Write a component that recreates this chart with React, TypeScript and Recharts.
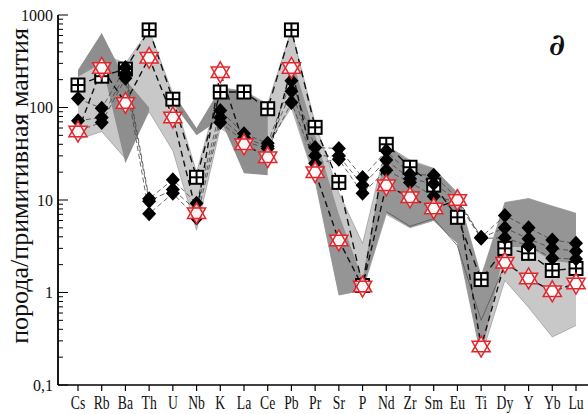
import { ComposedChart, Area, Line, XAxis, YAxis } from 'recharts';

const elements = ['Cs', 'Rb', 'Ba', 'Th', 'U', 'Nb', 'K', 'La', 'Ce', 'Pb', 'Pr', 'Sr', 'P', 'Nd', 'Zr', 'Sm', 'Eu', 'Ti', 'Dy', 'Y', 'Yb', 'Lu'];
const yTickLabels = ['0,1', '1', '10', '100', '1000'];

// образцы
const squareVals = [175, 218, 260, 690, 123, 17.6, 147, 147, 97, 690, 61, 15.5, 1.19, 40, 22.6, 14.5, 6.5, 1.38, 3.0, 2.65, 1.73, 1.82];
const starVals = [55, 268, 112, 345, 78, 7.2, 240, 40, 29, 268, 20, 3.66, 1.16, 14.4, 10.7, 8.1, 10, 0.26, 2.1, 1.42, 1.03, 1.25];
const diamondA = [125, 98, 270, 10.3, 16.6, 9.2, 93, 52, 41, 195, 37, 36, 17.5, 34, 19, 18.5, 10.4, 3.95, 6.8, 5.0, 3.7, 3.4];
const diamondB = [72, 78, 234, 9.7, 13, 7.7, 78, 47, 38, 150, 30, 30, 14.4, 27, 17, 15, 10, 3.9, 5.0, 3.8, 3.0, 2.8];
const diamondC = [56, 69, 207, 7.1, 11.8, 6.4, 69, 43, 36, 113, 25, 27.5, 11.8, 21, 15.5, 11, 9.5, 3.85, 3.9, 3.2, 2.35, 2.3];
const outlineVals = [null, null, null, null, null, null, null, null, null, null, null, null, null, 7.5, 5.2, 6.3, 3.2, 0.5, 2.0, null, null, null];

// поля
const lightLow = [45, 55, 28, 90, 34, 4.7, 60, 40, 40, 100, 16, 0.95, 1.05, 7, 5, 6, 3.4, 0.2, 1.35, 0.69, 0.33, 0.44];
const lightHigh = [240, 380, 300, 690, 140, 20, 165, 150, 110, 690, 68, 12, 3.4, 39, 27, 22, 12, 1.5, 9.4, 10.4, 8.6, 7.2];
const darkALow = [215, 300, 25, 92, null, null, null, null, null, null, null, null, null, null, null, null, null, null, null, null, null, null];
const darkAHigh = [255, 640, 200, 100, null, null, null, null, null, null, null, null, null, null, null, null, null, null, null, null, null, null];
const darkBLow = [null, null, null, null, 112, 50, 75, 19.5, 18.5, null, null, null, null, null, null, null, null, null, null, null, null, null];
const darkBHigh = [null, null, null, null, 145, 60, 160, 152, 105, null, null, null, null, null, null, null, null, null, null, null, null, null];
const darkCLow = [null, null, null, null, null, null, null, null, null, 110, 16, 0.93, 1.05, 7.2, 5.05, 6, 3.4, 0.2, 3.1, 3.1, 2.2, 2.05];
const darkCHigh = [null, null, null, null, null, null, null, null, null, 350, 50, 7, 1.4, 39, 26, 22, 11.8, 1.5, 9.4, 10.4, 8.6, 7.2];

const range = (lo: (number | null)[], hi: (number | null)[], i: number) =>
  lo[i] == null || hi[i] == null ? null : [lo[i], hi[i]];

const rows = elements.map((name, i) => ({
  i,
  name,
  square: squareVals[i],
  star: starVals[i],
  dA: diamondA[i],
  dB: diamondB[i],
  dC: diamondC[i],
  outline: outlineVals[i],
  light: range(lightLow, lightHigh, i),
  darkA: range(darkALow, darkAHigh, i),
  darkB: range(darkBLow, darkBHigh, i),
  darkC: range(darkCLow, darkCHigh, i),
}));

const yTicks: number[] = [];
[0.1, 1, 10, 100].forEach((d) => {
  for (let k = 1; k <= 9; k++) yTicks.push(d * k);
});
yTicks.push(1000);

const serif = '"Liberation Serif", "Times New Roman", serif';

const XTick = (props: any) => {
  const { x, y, payload } = props;
  return (
    <g>
      <line x1={x} x2={x} y1={y} y2={y + 6} stroke="#000" strokeWidth={1.2} />
      <text transform={`translate(${x},${y + 24}) scale(0.72,1)`} textAnchor="middle" fontSize={19} fontFamily={serif} fill="#111">
        {elements[payload.value]}
      </text>
    </g>
  );
};

const YTick = (props: any) => {
  const { x, y, payload } = props;
  const lg = Math.log10(payload.value);
  const major = Math.abs(lg - Math.round(lg)) < 1e-6;
  return (
    <g>
      <line x1={x} x2={x + (major ? 10 : 5)} y1={y} y2={y} stroke="#000" strokeWidth={1} />
      {major && (
        <text x={x - 5} y={y} dy="0.35em" textAnchor="end" fontSize={16} fontFamily={serif} fill="#111">
          {yTickLabels[Math.round(lg) + 1]}
        </text>
      )}
    </g>
  );
};

const renderDiamond = (p: any) => {
  const { cx, cy } = p;
  if (cx == null || cy == null) return <g key={`dm-${p.dataKey}-${p.index}`} />;
  return (
    <polygon
      key={`dm-${p.dataKey}-${p.index}`}
      points={`${cx},${cy - 7.5} ${cx + 7},${cy} ${cx},${cy + 7.5} ${cx - 7},${cy}`}
      fill="#000"
    />
  );
};

const renderSquare = (p: any) => {
  const { cx, cy } = p;
  return (
    <g key={`sq-${p.index}`}>
      <rect x={cx - 7.5} y={cy - 7.5} width={15} height={15} fill="#000" />
      <rect x={cx - 5.5} y={cy - 5.5} width={4.5} height={4.5} fill="#fff" />
      <rect x={cx + 1} y={cy - 5.5} width={4.5} height={4.5} fill="#fff" />
      <rect x={cx - 5.5} y={cy + 1} width={4.5} height={4.5} fill="#fff" />
      <rect x={cx + 1} y={cy + 1} width={4.5} height={4.5} fill="#fff" />
    </g>
  );
};

const tri = (cx: number, cy: number, r: number, start: number) =>
  [0, 1, 2]
    .map((k) => {
      const a = ((start + k * 120) * Math.PI) / 180;
      return `${cx + r * Math.cos(a)},${cy + r * Math.sin(a)}`;
    })
    .join(' ');

const renderStar = (p: any) => {
  const { cx, cy } = p;
  const up = tri(cx, cy, 10.5, -90);
  const down = tri(cx, cy, 10.5, 90);
  return (
    <g key={`st-${p.index}`}>
      <polygon points={up} fill="#fff" fillOpacity={0.8} />
      <polygon points={down} fill="#fff" fillOpacity={0.8} />
      <polygon points={up} fill="none" stroke="#e3262d" strokeWidth={1.5} />
      <polygon points={down} fill="none" stroke="#e3262d" strokeWidth={1.5} />
    </g>
  );
};

export default function App() {
  return (
    <div style={{ position: 'absolute', left: 0, top: 0, width: 588, height: 414, background: '#fff' }}>
      <ComposedChart width={588} height={414} data={rows} margin={{ top: 15, right: 0, bottom: 0, left: 0 }}>
        <XAxis
          type="number"
          dataKey="i"
          domain={[-0.843, 21.506]}
          allowDataOverflow
          ticks={elements.map((_, i) => i)}
          interval={0}
          height={29}
          tickLine={false}
          tickSize={0}
          tickMargin={0}
          tick={XTick}
          axisLine={{ stroke: '#000', strokeWidth: 1.5 }}
        />
        <YAxis
          type="number"
          scale="log"
          domain={[0.1, 1000]}
          allowDataOverflow
          ticks={yTicks}
          interval={0}
          width={58}
          tickLine={false}
          tickSize={0}
          tickMargin={0}
          tick={YTick}
          axisLine={{ stroke: '#000', strokeWidth: 1.8 }}
        />
        <Area dataKey="light" type="linear" fill="#c8c8c8" fillOpacity={1} stroke="#7a7a7a" strokeWidth={0.5} dot={false} activeDot={false} isAnimationActive={false} />
        <Area dataKey="darkA" type="linear" fill="#8e8e8e" fillOpacity={1} stroke="none" dot={false} activeDot={false} isAnimationActive={false} />
        <Area dataKey="darkB" type="linear" fill="#8e8e8e" fillOpacity={1} stroke="none" dot={false} activeDot={false} isAnimationActive={false} />
        <Area dataKey="darkC" type="linear" fill="#959595" fillOpacity={1} stroke="none" dot={false} activeDot={false} isAnimationActive={false} />
        <Line dataKey="outline" type="linear" stroke="#555" strokeWidth={0.8} dot={false} activeDot={false} isAnimationActive={false} />
        <Line dataKey="square" type="linear" stroke="#111" strokeWidth={1.4} strokeDasharray="7 5" dot={renderSquare} activeDot={false} isAnimationActive={false} />
        <Line dataKey="dA" type="linear" stroke="#444" strokeWidth={0.8} strokeDasharray="5 3" dot={renderDiamond} activeDot={false} isAnimationActive={false} />
        <Line dataKey="dB" type="linear" stroke="#444" strokeWidth={0.8} strokeDasharray="5 3" dot={renderDiamond} activeDot={false} isAnimationActive={false} />
        <Line dataKey="dC" type="linear" stroke="#444" strokeWidth={0.8} strokeDasharray="5 3" dot={renderDiamond} activeDot={false} isAnimationActive={false} />
        <Line dataKey="star" type="linear" stroke="#111" strokeWidth={1.4} strokeDasharray="6 4" dot={renderStar} activeDot={false} isAnimationActive={false} />
      </ComposedChart>
      <svg width={588} height={414} style={{ position: 'absolute', left: 0, top: 0, pointerEvents: 'none' }}>
        <text transform="translate(28,186) rotate(-90) scale(1.04,1)" textAnchor="middle" fontSize={25} fontFamily={serif} fill="#111">
          порода/примитивная мантия
        </text>
        <text x={557} y={55} textAnchor="middle" fontSize={30} fontStyle="italic" fontWeight="bold" fontFamily='"DejaVu Serif", serif' fill="#111">
          ∂
        </text>
      </svg>
    </div>
  );
}
